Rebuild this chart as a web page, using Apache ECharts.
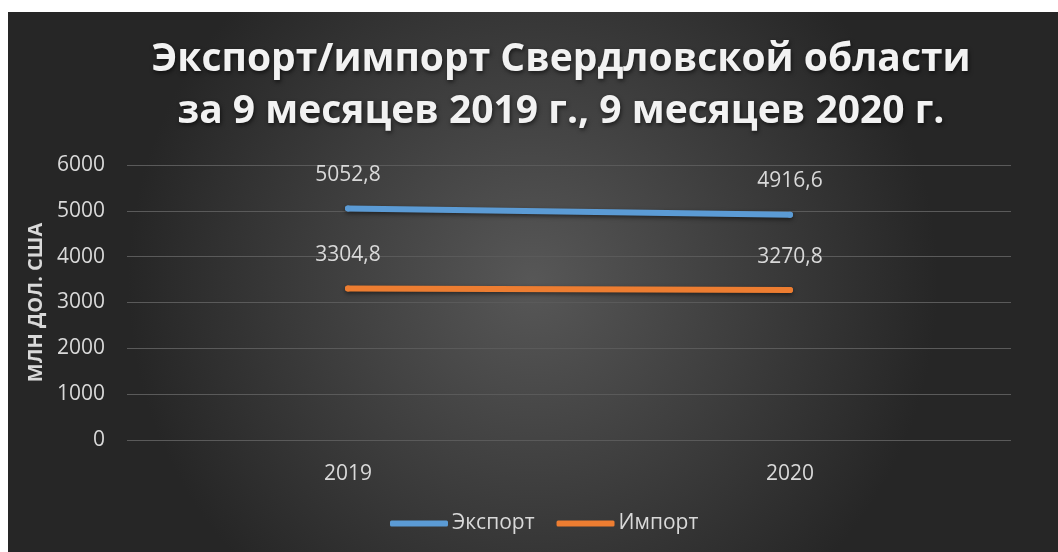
<!DOCTYPE html>
<html>
<head>
<meta charset="utf-8">
<script src="https://cdn.jsdelivr.net/npm/echarts@6/dist/echarts.min.js"></script>
<style>
  html, body { margin: 0; padding: 0; background: #fff; }
  #chart { position: absolute; left: 8px; top: 12px; width: 1050px; height: 540px; }
</style>
</head>
<body>
<div id="chart"></div>
<script>
  const categories = ['2019', '2020']
  const exportValues = [5052.8, 4916.6]
  const importValues = [3304.8, 3270.8]
  const yTicks = [0, 1000, 2000, 3000, 4000, 5000, 6000]
  const titleText = 'Экспорт/импорт Свердловской области\nза 9 месяцев 2019 г., 9 месяцев 2020 г.'

  const fmt = v => String(v.value).replace('.', ',')
  const labelText = { color: '#d9d9d9', fontSize: 21, fontFamily: 'Open Sans' }

  const chart = echarts.init(document.getElementById('chart'))
  const option = {
    backgroundColor: {
      type: 'radial', x: 0.5, y: 0.5, r: 0.75,
      colorStops: [
        { offset: 0, color: '#575757' },
        { offset: 1, color: '#262626' }
      ]
    },
    // title is drawn as a graphic text so its centre can sit off the div centre
    graphic: [
      {
        type: 'text',
        x: 553,
        y: 22,
        style: {
          text: titleText,
          align: 'center',
          verticalAlign: 'top',
          fill: '#f2f2f2',
          fontFamily: 'Open Sans',
          fontWeight: 'bold',
          fontSize: 39,
          lineHeight: 52,
          textShadowColor: 'rgba(0,0,0,0.6)',
          textShadowBlur: 4,
          textShadowOffsetX: 1,
          textShadowOffsetY: 2
        }
      }
    ],
    grid: { left: 119, right: 47, top: 153, bottom: 112 },
    legend: {
      bottom: 13,
      left: 377,
      itemWidth: 58,
      itemHeight: 6,
      itemGap: 22,
      icon: 'roundRect',
      textStyle: { color: '#d9d9d9', fontSize: 21, fontFamily: 'Open Sans', padding: [0, 0, 0, -1] },
      data: ['Экспорт', 'Импорт']
    },
    xAxis: {
      type: 'category',
      data: categories,
      axisLine: { show: false },
      axisTick: { show: false },
      axisLabel: Object.assign({ margin: 24 }, labelText)
    },
    yAxis: {
      type: 'value',
      min: 0,
      max: 6000,
      interval: 1000,
      name: 'МЛН ДОЛ. США',
      nameLocation: 'middle',
      nameRotate: 90,
      nameGap: 80,
      nameTextStyle: { color: '#d9d9d9', fontSize: 20, fontWeight: 'bold', fontFamily: 'Open Sans' },
      axisLabel: Object.assign({
        margin: 22,
        formatter: v => yTicks.includes(v) ? String(v) : ''
      }, labelText),
      splitLine: { lineStyle: { color: '#5a5a5a', width: 1 } }
    },
    series: [
      {
        name: 'Экспорт',
        type: 'line',
        data: exportValues,
        symbol: 'circle',
        symbolSize: 6,
        color: '#5b9bd5',
        lineStyle: { width: 6, cap: 'round', shadowColor: 'rgba(0,0,0,0.5)', shadowBlur: 4, shadowOffsetY: 2 },
        label: Object.assign({ show: true, position: 'top', distance: 20, formatter: fmt }, labelText)
      },
      {
        name: 'Импорт',
        type: 'line',
        data: importValues,
        symbol: 'circle',
        symbolSize: 6,
        color: '#ed7d31',
        lineStyle: { width: 6, cap: 'round', shadowColor: 'rgba(0,0,0,0.5)', shadowBlur: 4, shadowOffsetY: 2 },
        label: Object.assign({ show: true, position: 'top', distance: 20, formatter: fmt }, labelText)
      }
    ]
  }
  chart.setOption(option)
  window.addEventListener('resize', () => chart.resize())
</script>
</body>
</html>
